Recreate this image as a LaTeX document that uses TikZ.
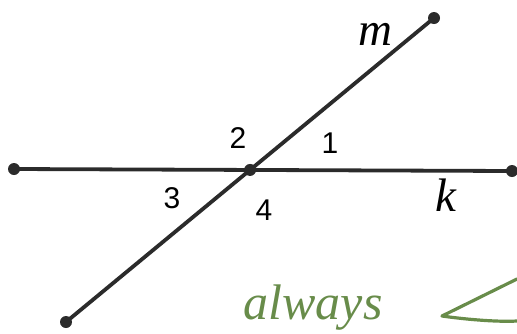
\documentclass[tikz,border=0pt]{standalone}
\usepackage{fontspec}
\setmainfont{Liberation Sans}
\newfontfamily\lblfont{Liberation Serif}
\usetikzlibrary{arrows.meta}
\definecolor{lineGray}{HTML}{2B2B2B}
\definecolor{penGreen}{RGB}{104,140,74}
\tikzset{numlbl/.style={font=\fontsize{30}{30}\selectfont},
  linelbl/.style={font=\lblfont\itshape\fontsize{47}{47}\selectfont}}
\begin{document}
\begin{tikzpicture}[x=1pt,y=-1pt,every node/.style={inner sep=0pt}]
\useasboundingbox (0,0) rectangle (517,333);
\coordinate (kL) at (14,169);\coordinate (kR) at (512,171);
\coordinate (mB) at (66,322);\coordinate (mT) at (434,18);
\coordinate (O) at (intersection of kL--kR and mB--mT);
\draw[lineGray,line width=3.8pt] (kL)--(kR);\draw[lineGray,line width=3.8pt] (mB)--(mT);
\foreach \p in {kL,kR,mB,mT,O}{\fill[lineGray] (\p) circle (6);}
\node[linelbl] (lm) at (375,34){m};\node[linelbl] (lk) at (446,195){k};
\node[numlbl] (a1) at (330,143){1};\node[numlbl] (a2) at (238,138){2};
\node[numlbl] (a3) at (172,198){3};\node[numlbl] (a4) at (264,210){4};
% green pen marks
\node[penGreen,font=\lblfont\itshape\fontsize{50}{50}\selectfont,anchor=base] (note) at (313,319){always};
\coordinate (vT) at (517,279);\coordinate (vA) at (442,316);\coordinate (vB) at (517,321);
\draw[penGreen,line width=3.2pt,line cap=round,line join=round] (vT)--(vA) .. controls (470,320) and (500,322) .. (vB);
\end{tikzpicture}
\end{document}
